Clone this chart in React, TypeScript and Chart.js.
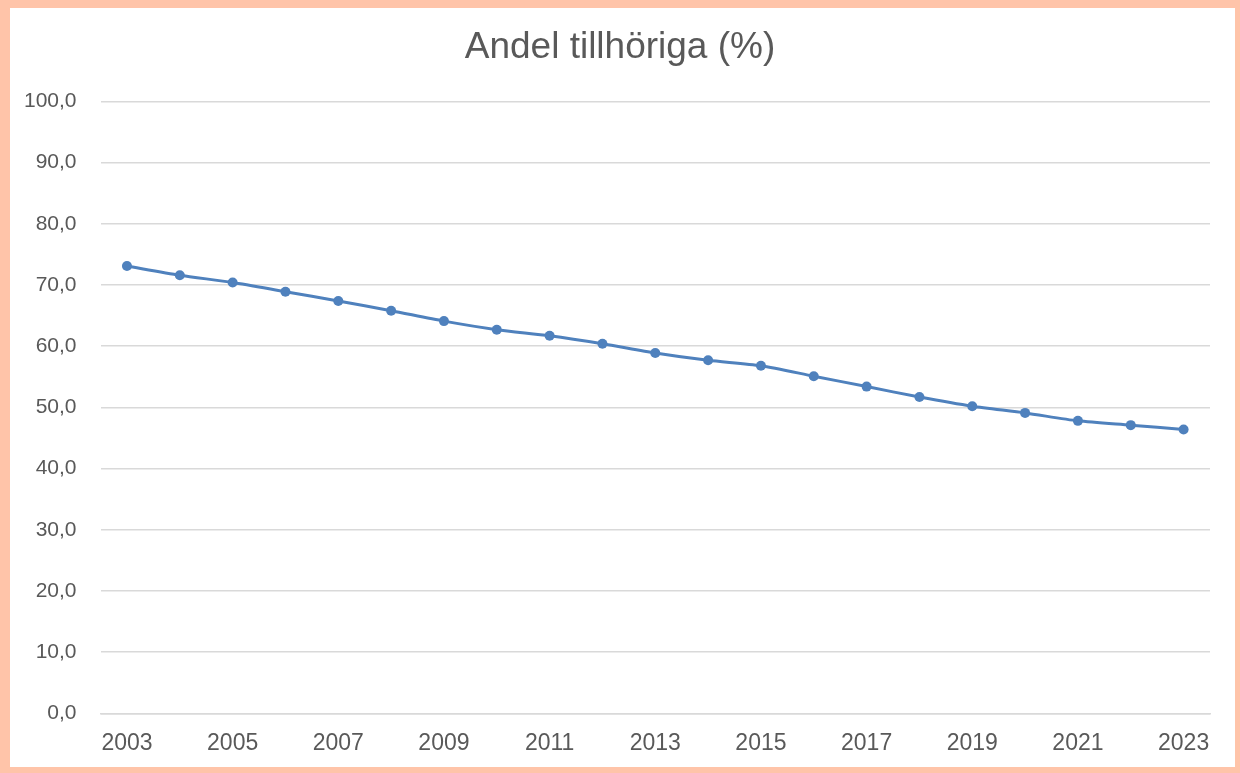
import React, { useEffect, useRef } from "react";
import { Chart, registerables } from "chart.js";

Chart.register(...registerables);

const years = [
  "2003", "2004", "2005", "2006", "2007", "2008", "2009", "2010", "2011", "2012",
  "2013", "2014", "2015", "2016", "2017", "2018", "2019", "2020", "2021", "2022", "2023",
];

const shareValues = [
  73.1, 71.6, 70.4, 68.9, 67.4, 65.8, 64.1, 62.7, 61.7, 60.4,
  58.9, 57.7, 56.8, 55.1, 53.4, 51.7, 50.2, 49.1, 47.8, 47.1, 46.4,
];

const chartTitle = "Andel tillhöriga (%)";

const FONT = "'Liberation Sans', Arial, sans-serif";
const TEXT = "#595959";
const GRID = "#d9d9d9";
const LINE = "#4F81BD";

export default function App() {
  const ref = useRef<HTMLCanvasElement | null>(null);

  useEffect(() => {
    if (!ref.current) return;
    const chart = new Chart(ref.current, {
      type: "line",
      data: {
        labels: years,
        datasets: [
          {
            label: chartTitle,
            data: shareValues,
            borderColor: LINE,
            backgroundColor: LINE,
            borderWidth: 3,
            pointRadius: 5,
            pointBackgroundColor: LINE,
            pointBorderColor: LINE,
            pointBorderWidth: 0,
            tension: 0.25,
            yAxisID: "y",
          },
        ],
      },
      options: {
        animation: false,
        responsive: false,
        maintainAspectRatio: false,
        layout: { padding: { left: 0, right: 0, top: 0, bottom: 0 } },
        plugins: {
          legend: { display: false },
          tooltip: { enabled: false },
          title: {
            display: true,
            text: chartTitle,
            color: TEXT,
            font: { family: FONT, size: 37, weight: "normal" },
            padding: { top: 26, bottom: 31 },
          },
        },
        scales: {
          x: {
            offset: true,
            grid: { display: false, drawTicks: false },
            border: { display: true, color: GRID, width: 1.5 },
            ticks: {
              autoSkip: false,
              maxRotation: 0,
              padding: 16,
              color: TEXT,
              font: { family: FONT, size: 23 },
              callback: (_v: any, i: number) => (i % 2 === 0 ? years[i] : ""),
            },
          },
          y: {
            min: 0,
            max: 100,
            grid: { color: GRID, lineWidth: 1.5, drawTicks: false },
            border: { display: false },
            ticks: {
              stepSize: 10,
              padding: 24,
              color: TEXT,
              font: { family: FONT, size: 21 },
              callback: (v: any) => Number(v).toFixed(1).replace(".", ","),
            },
          },
          spacer: {
            type: "linear",
            position: "right",
            display: true,
            min: 0,
            max: 100,
            grid: { display: false, drawTicks: false },
            border: { display: false },
            ticks: { display: false },
            afterFit: (s: any) => {
              s.width = 30;
            },
          },
        },
      },
    });
    return () => chart.destroy();
  }, []);

  return (
    <div style={{ position: "absolute", left: 0, top: 0, width: 1240, height: 773, background: "#fff" }}>
      <canvas ref={ref} width={1240} height={773} style={{ position: "absolute", left: 0, top: 0, width: 1240, height: 773 }} />
      <div
        style={{
          position: "absolute",
          left: 0,
          top: 0,
          width: 1240,
          height: 773,
          boxSizing: "border-box",
          borderStyle: "solid",
          borderColor: "#FFC4A9",
          borderWidth: "8px 5px 6px 10px",
          pointerEvents: "none",
        }}
      />
    </div>
  );
}
